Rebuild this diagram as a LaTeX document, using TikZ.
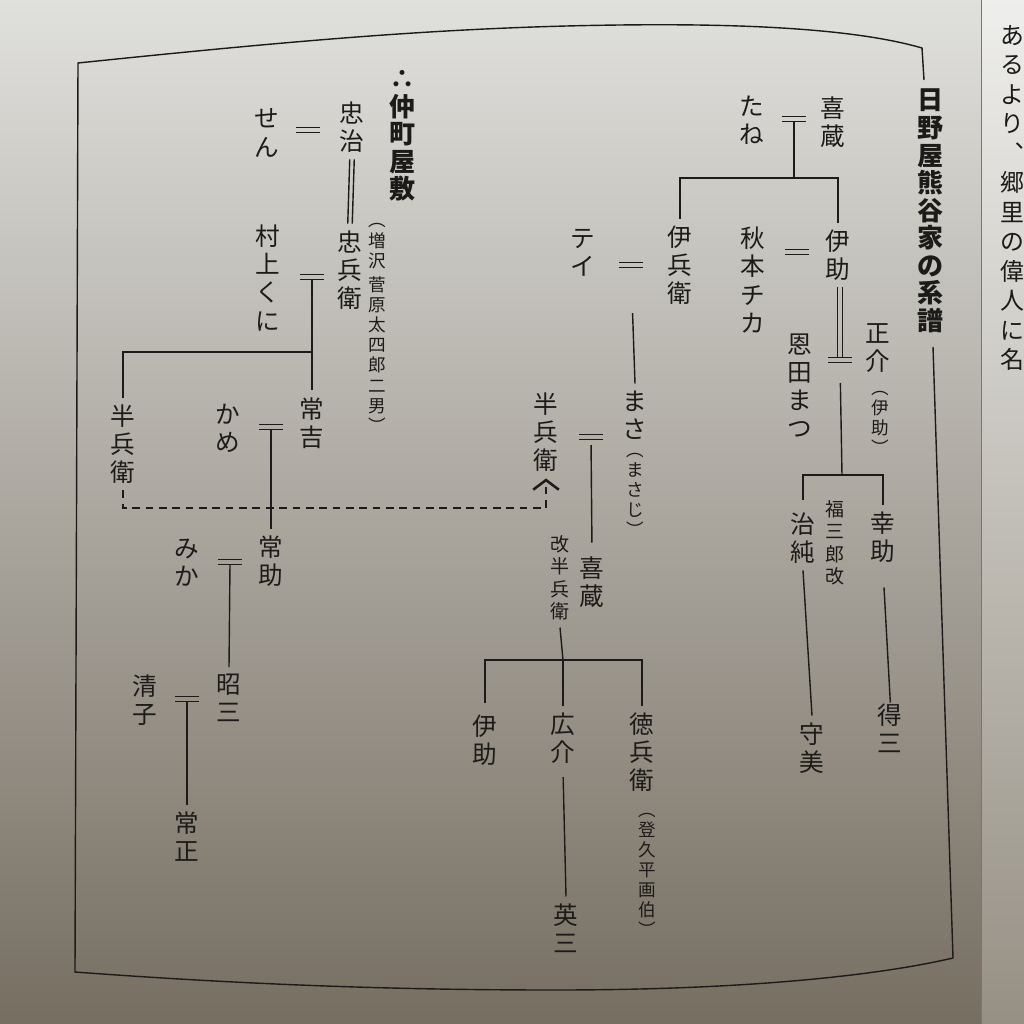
\documentclass[tikz,border=0pt]{standalone}
\usepackage{fontspec}
\newfontfamily\jpfont{Noto Sans CJK JP}
\usetikzlibrary{arrows.meta}
\definecolor{ink}{RGB}{28,27,25}
\definecolor{bgtop}{RGB}{224,224,221}
\definecolor{bgmid}{RGB}{168,163,153}
\definecolor{bgbot}{RGB}{118,110,97}
\definecolor{pgtop}{RGB}{238,238,236}
\definecolor{pgbot}{RGB}{150,144,132}

\begin{document}
\begin{tikzpicture}[x=0.025cm, y=-0.025cm, line width=1pt,
        pname/.style={font=\jpfont\fontsize{17.5pt}{20pt}\selectfont, text=ink, align=center, inner sep=0pt, outer sep=5pt},
        pmid/.style={pname, font=\jpfont\fontsize{13.5pt}{16pt}\selectfont},
        pnote/.style={pname, font=\jpfont\fontsize{12.5pt}{14.3pt}\selectfont},
        phead/.style={pname, font=\jpfont\bfseries\fontsize{18.5pt}{19.6pt}\selectfont},
        marr/.style={minimum width=0.6cm, minimum height=0.11cm, inner sep=0pt, outer sep=0pt,
          append after command={\pgfextra{\draw[ink, line width=.9pt] (\tikzlastnode.north west) -- (\tikzlastnode.north east) (\tikzlastnode.south west) -- (\tikzlastnode.south east);}}},
        kin/.style={draw=ink},
        adopt/.style={draw=none, preaction={draw=ink, transform canvas={xshift=-1.6pt}}, postaction={draw=ink, transform canvas={xshift=1.6pt}}},
        link/.style={draw=ink, line width=1.8pt, dash pattern=on 5.5pt off 4pt, -{Straight Barb[length=2.4mm, width=6.4mm, line width=1.8pt]}}]
        \useasboundingbox (0,0) rectangle (1024,1024);
        %Hintergrund
        \shade[top color=bgtop, middle color=bgmid, bottom color=bgbot] (0,0) rectangle (1024,1024);
        \shade[top color=pgtop, bottom color=pgbot] (981,0) rectangle (1024,1024);
        \draw[ink!60, line width=.6pt] (981,0) -- (981,1024);
        \node[pname, anchor=north, font=\jpfont\fontsize{17pt}{21pt}\selectfont] (nextpage) at (1012,18) {あ\\る\\よ\\り\\︑\\郷\\里\\の\\偉\\人\\に\\名};
        %Rahmen
        \draw[ink] (924,80) -- (922,48) .. controls (870,33) and (780,23) .. (620,25)
            .. controls (450,27) and (300,40) .. (78,63) -- (75,972)
            .. controls (250,985) and (400,990) .. (555,990)
            .. controls (750,990) and (880,975) .. (953,958) -- (933,347);

        %Hinoya Kumagai
        \node[phead] (hinoya) at (930,211) {日\\野\\屋\\熊\\谷\\家\\の\\系\\譜};
        \node[pname] (kizo) at (833,122) {喜\\蔵};
        \node[pname] (tane) at (752,120) {た\\ね};
        \node[marr] (mKizo) at (794,119) {};
        \node[pname] (ihei) at (680,265) {伊\\兵\\衛};
        \node[pname] (isuke) at (838,255) {伊\\助};
        \node[pname] (chika) at (753,280) {秋\\本\\チ\\カ};
        \node[marr] (mChika) at (797,252) {};
        \node[pname] (shosuke) at (878,348) {正\\介};
        \node[pnote] (shosukeN) at (880,423) {︵\\伊\\助\\︶};
        \node[pname] (matsu) at (800,386) {恩\\田\\ま\\つ};
        \node[marr] (mMatsu) at (840,360) {};
        \node[pname] (jijun) at (803,538) {治\\純};
        \node[pmid] (fuku) at (835,543) {福\\三\\郎\\改};
        \node[pname] (kosuke) at (883,537) {幸\\助};
        \node[pname] (moriyoshi) at (812,748) {守\\美};
        \node[pname] (tokuzo) at (890,728) {得\\三};
        \coordinate (jKizo) at (794,178);
        \coordinate (jMatsu) at (842,475);
        \draw[kin] (mKizo.south) -- (jKizo);
        \draw[kin] (ihei.north) |- (jKizo) -| (isuke.north);
        \draw[adopt] (isuke.south -| mMatsu.north) -- (mMatsu.north);
        \draw[kin, shorten <=0.52cm] (mMatsu.south) -- (jMatsu);
        \draw[kin, shorten <=0.15cm] (jijun.north) |- (jMatsu) -| (kosuke.north);
        \draw[kin] (jijun.south) -- (moriyoshi.north);
        \draw[kin, shorten <=0.45cm, shorten >=-0.15cm] (kosuke.south) -- (tokuzo.north);

        %Mitte
        \node[pname] (tei) at (583,253) {テ\\イ};
        \node[marr] (mTei) at (631,265) {};
        \node[pname] (masa) at (635,415) {ま\\さ};
        \node[pnote] (masaN) at (635,495) {︵\\ま\\さ\\じ\\︶};
        \node[pname] (hanbeiB) at (546,432) {半\\兵\\衛};
        \node[marr] (mMasa) at (591,437) {};
        \node[pname] (kizoB) at (592,582) {喜\\蔵};
        \node[pmid] (kai) at (560,578) {改\\半\\兵\\衛};
        \node[pname] (isukeB) at (485,740) {伊\\助};
        \node[pname] (kosukeB) at (563,738) {広\\介};
        \node[pname] (tokubei) at (642,752) {徳\\兵\\衛};
        \node[pnote] (tokubeiN) at (647,875) {︵\\登\\久\\平\\画\\伯\\︶};
        \node[pname] (eizo) at (566,928) {英\\三};
        \coordinate (jKai) at (563,660);
        \draw[kin, shorten <=1.15cm] (mTei.south) -- (masa.north);
        \draw[kin, shorten <=0.15cm, shorten >=0.17cm] (mMasa.south) -- (kizoB.north);
        \draw[kin] (kai.south) -- (jKai);
        \draw[kin, shorten <=0.12cm] (isukeB.north) |- (jKai) -| (tokubei.north);
        \draw[kin] (jKai) -- (kosukeB.north);
        \draw[kin, shorten <=0.17cm] (kosukeB.south) -- (eizo.north);

        %Nakamachi Yashiki
        \node[phead] (naka) at (403,136) {∴\\仲\\町\\屋\\敷};
        \node[pname] (chuji) at (352,127) {忠\\治};
        \node[pname] (sen) at (267,133) {せ\\ん};
        \node[marr] (mSen) at (308,130) {};
        \node[pname] (chubei) at (350,270) {忠\\兵\\衛};
        \node[pnote] (chubeiN) at (377,328) {︵\\増\\沢\\[3pt]菅\\原\\太\\四\\郎\\二\\男\\︶};
        \node[pname] (kuni) at (268,278) {村\\上\\く\\に};
        \node[marr] (mKuni) at (312,277) {};
        \node[pname] (hanbeiA) at (123,444) {半\\兵\\衛};
        \node[pname] (tsunekichi) at (312,423) {常\\吉};
        \node[pname] (kame) at (228,428) {か\\め};
        \node[marr] (mKame) at (271,427) {};
        \node[pname] (tsunesuke) at (271,561) {常\\助};
        \node[pname] (mika) at (187,563) {み\\か};
        \node[marr] (mMika) at (230,562) {};
        \node[pname] (shozo) at (229,698) {昭\\三};
        \node[pname] (kiyoko) at (145,700) {清\\子};
        \node[marr] (mKiyoko) at (187,699) {};
        \node[pname] (tsunemasa) at (187,837) {常\\正};
        \coordinate (jKuni) at (312,352);
        \coordinate (jLink) at (335,508);
        \draw[adopt] (chuji.south) -- (chubei.north);
        \draw[kin] (mKuni.south) -- (tsunekichi.north);
        \draw[kin] (jKuni) -| (hanbeiA.north);
        \draw[kin] (mKame.south) -- (tsunesuke.north);
        \draw[kin] (mMika.south) -- (shozo.north);
        \draw[kin] (mKiyoko.south) -- (tsunemasa.north);
        \draw[link] (hanbeiA.south) |- (jLink) -| (hanbeiB.south);
    \end{tikzpicture}
\end{document}
